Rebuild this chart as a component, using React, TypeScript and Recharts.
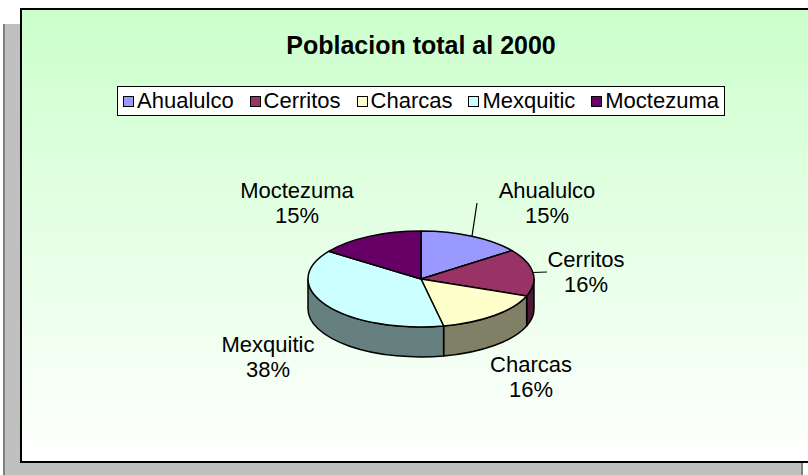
import React from 'react';
import { PieChart, Pie, Legend } from 'recharts';

// ---- data ----
const categories = ['Ahualulco', 'Cerritos', 'Charcas', 'Mexquitic', 'Moctezuma'];
const population = [18600, 19800, 20000, 47400, 19000];
const topColors = ['#9999FF', '#993366', '#FFFFCC', '#CCFFFF', '#660066'];
const sideColors = ['#4D4D80', '#4D1A33', '#808066', '#668080', '#330033'];
const chartTitle = 'Poblacion total al 2000';

const data = categories.map((name, i) => ({ name, value: population[i] }));

// ---- layout ----
const W = 808;
const H = 475;
const CX = 421;
const CY = 279;
const RX = 113;
const TILT = 48 / 113;
const DEPTH = 30;
const FONT = '"Liberation Sans", Arial, Helvetica, sans-serif';
const TEXT_SIZE = 22;

// label placement relative to the pie centre (manually placed labels, as in the original)
const LABEL_LAYOUT: Record<string, { dx: number; dy: number; leader?: [number, number] }> = {
  Ahualulco: { dx: 126, dy: -76, leader: [56, -76] },
  Cerritos: { dx: 165, dy: -7, leader: [126, -7] },
  Charcas: { dx: 110, dy: 98 },
  Mexquitic: { dx: -153, dy: 78 },
  Moctezuma: { dx: -124, dy: -76 },
};

const rad = (a: number) => (a * Math.PI) / 180;

const renderSlice = (props: any) => {
  const { cx, cy, startAngle, endAngle, midAngle, outerRadius, percent, name, index } = props;
  const rx = outerRadius;
  const ry = outerRadius * TILT;
  const pt = (a: number, d = 0) => [cx + rx * Math.cos(rad(a)), cy - ry * Math.sin(rad(a)) + d];
  const hi = Math.max(startAngle, endAngle);
  const lo = Math.min(startAngle, endAngle);
  const large = hi - lo > 180 ? 1 : 0;
  const p1 = pt(hi);
  const p2 = pt(lo);
  const top = `M${cx},${cy} L${p1[0]},${p1[1]} A${rx},${ry} 0 ${large} 1 ${p2[0]},${p2[1]} Z`;

  const sides: string[] = [];
  [-360, 0, 360].forEach((k) => {
    const sHi = Math.min(hi, k);
    const sLo = Math.max(lo, k - 180);
    if (sHi > sLo) {
      const a = pt(sHi);
      const b = pt(sLo);
      const c = pt(sLo, DEPTH);
      const d = pt(sHi, DEPTH);
      sides.push(
        `M${a[0]},${a[1]} A${rx},${ry} 0 0 1 ${b[0]},${b[1]} L${c[0]},${c[1]} A${rx},${ry} 0 0 0 ${d[0]},${d[1]} Z`
      );
    }
  });

  const lay = LABEL_LAYOUT[name] || { dx: 0, dy: 0 };
  const lx = cx + lay.dx;
  const ly = cy + lay.dy;
  const edge = pt(midAngle);
  const pct = `${Math.round(percent * 100)}%`;

  return (
    <g key={`slice-${index}`}>
      {sides.map((d, i) => (
        <path key={i} d={d} fill={sideColors[index]} stroke="#000" strokeWidth={1.5} strokeLinejoin="round" />
      ))}
      <path d={top} fill={topColors[index]} stroke="#000" strokeWidth={1.5} strokeLinejoin="round" />
      {lay.leader && (
        <line x1={edge[0]} y1={edge[1]} x2={cx + lay.leader[0]} y2={cy + lay.leader[1]} stroke="#000" strokeWidth={1.2} />
      )}
      <text x={lx} y={ly - 12.5} textAnchor="middle" dominantBaseline="central" fontFamily={FONT} fontSize={TEXT_SIZE} fill="#000">
        {name}
      </text>
      <text x={lx} y={ly + 12.5} textAnchor="middle" dominantBaseline="central" fontFamily={FONT} fontSize={TEXT_SIZE} fill="#000">
        {pct}
      </text>
    </g>
  );
};

const renderLegend = (props: any) => {
  const payload = props.payload || [];
  return (
    <div style={{ display: 'flex', justifyContent: 'center' }}>
      <div
        style={{
          display: 'flex',
          alignItems: 'center',
          justifyContent: 'space-between',
          boxSizing: 'border-box',
          width: 608,
          height: 30,
          border: '1px solid #000',
          background: '#fff',
          padding: '0 5px',
          fontFamily: FONT,
          fontSize: TEXT_SIZE,
          color: '#000',
          lineHeight: '28px',
        }}
      >
        {payload.map((p: any, i: number) => (
          <span key={i} style={{ display: 'flex', alignItems: 'center' }}>
            <span
              style={{
                display: 'inline-block',
                width: 11,
                height: 11,
                boxSizing: 'border-box',
                border: '1px solid #000',
                background: topColors[i],
                marginRight: 3,
              }}
            />
            {p.value}
          </span>
        ))}
      </div>
    </div>
  );
};

export default function App() {
  return (
    <div style={{ position: 'absolute', left: 0, top: 0, width: W, height: H, overflow: 'hidden', background: '#fff' }}>
      <div
        style={{
          position: 'absolute',
          left: 3,
          top: 24,
          width: 796,
          height: 470,
          background: '#C0C0C0',
          borderLeft: '2px solid #808080',
          borderRight: '2px solid #808080',
        }}
      />
      <div
        style={{
          position: 'absolute',
          left: 20,
          top: 8,
          width: 800,
          height: 451,
          border: '2px solid #000',
          background: 'linear-gradient(to bottom, #CCFFCC 0%, #FFFFFF 100%)',
        }}
      />
      <div
        style={{
          position: 'absolute',
          left: 0,
          top: 29,
          width: 842,
          textAlign: 'center',
          fontFamily: FONT,
          fontWeight: 'bold',
          fontSize: 25,
          color: '#000',
          lineHeight: '32px',
        }}
      >
        {chartTitle}
      </div>
      <div style={{ position: 'absolute', left: 0, top: 0 }}>
        <PieChart width={W} height={H} margin={{ top: 0, right: 0, bottom: 0, left: 0 }}>
          <Legend
            layout="horizontal"
            verticalAlign="middle"
            align="center"
            content={renderLegend}
            wrapperStyle={{ top: 86, left: 0, width: 842 }}
          />
          <Pie
            data={data}
            dataKey="value"
            nameKey="name"
            cx={CX}
            cy={CY}
            outerRadius={RX}
            startAngle={90}
            endAngle={-270}
            fill="none"
            stroke="none"
            label={renderSlice}
            labelLine={false}
            isAnimationActive={false}
          />
        </PieChart>
      </div>
    </div>
  );
}
